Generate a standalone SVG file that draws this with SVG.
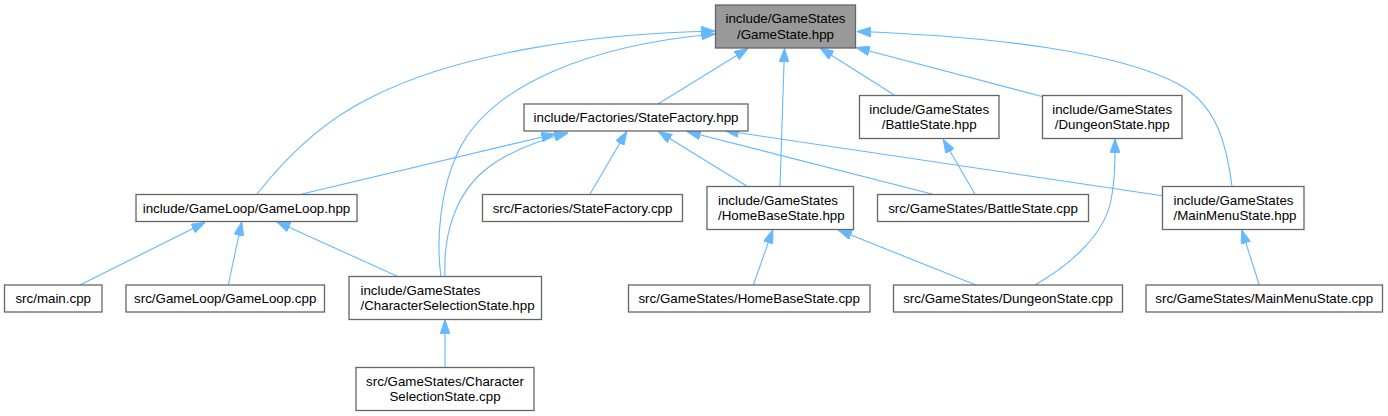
<svg xmlns="http://www.w3.org/2000/svg" width="1388" height="416" viewBox="0 0 1388 416">
<style>
  .bg { fill: #ffffff; }
  .node rect { fill: #ffffff; stroke: #666666; stroke-width: 1.3; }
  .node.root rect { fill: #999999; }
  .node text { font-family: "Liberation Sans", Arial, Helvetica, sans-serif; font-size: 13.33px; fill: #000000; }
  .c { text-anchor: middle; }
  .l { text-anchor: start; }
  .edges path { fill: none; stroke: #63b8ff; stroke-width: 1.1; marker-end: url(#arr); }
</style>
<defs>
  <marker id="arr" markerUnits="userSpaceOnUse" markerWidth="14" markerHeight="10" viewBox="0 0 13.3 9.4" refX="13" refY="4.7" orient="auto">
    <polygon points="0,0 13.3,4.7 0,9.4" fill="#63b8ff" stroke="#63b8ff" stroke-width="0.8"/>
  </marker>
</defs>
<rect class="bg" x="0" y="0" width="1388" height="416"/>

<g id="connectors" class="edges">
  <path d="M257,194 C290,152 328,118 372,97 C460,52 600,33 715,31"/>
  <path d="M441,277 C436,240 440,190 458,152 C490,85 590,45 715,34"/>
  <path d="M658,104 L748,48.5"/>
  <path d="M780,186.5 L784.5,48.5"/>
  <path d="M895,95.5 L820,48"/>
  <path d="M1042,96.5 L856,47.5"/>
  <path d="M1232,186.5 C1226,140 1215,105 1180,85 C1120,52 990,36 857,31.5"/>
  <path d="M302,194 L555,134"/>
  <path d="M445,277 C443,235 455,195 485,170 C510,150 540,140 568,133"/>
  <path d="M590,194 L626.7,131.5"/>
  <path d="M746.7,186 L658.3,131.5"/>
  <path d="M933,194.3 L687,131.5"/>
  <path d="M1162.3,195.7 L725,130.7"/>
  <path d="M975,194.3 L943.3,139.5"/>
  <path d="M1035,285 C1075,262 1105,232 1111,200 C1115,180 1115,160 1115,139"/>
  <path d="M80,285 L205,222.5"/>
  <path d="M228.3,285 L241.7,222"/>
  <path d="M398.3,276.7 L276.7,221.7"/>
  <path d="M753.3,285 L772.7,230"/>
  <path d="M976,285 L838.3,230"/>
  <path d="M1259.3,285 L1241.7,230"/>
  <path d="M445,367.5 L445,320"/>
</g>

<g id="n_gamestate_hpp" class="node root">
  <rect x="715.5" y="5" width="140" height="43"/>
  <text class="c" x="785.5" y="23">include/GameStates</text>
  <text class="c" x="785.5" y="38.5">/GameState.hpp</text>
</g>
<g id="n_statefactory_hpp" class="node">
  <rect x="524" y="104" width="224" height="27"/>
  <text class="c" x="636" y="122">include/Factories/StateFactory.hpp</text>
</g>
<g id="n_battlestate_hpp" class="node">
  <rect x="859.5" y="95.5" width="139.5" height="43"/>
  <text class="c" x="929.2" y="113.5">include/GameStates</text>
  <text class="c" x="929.2" y="129">/BattleState.hpp</text>
</g>
<g id="n_dungeonstate_hpp" class="node">
  <rect x="1042.5" y="95.5" width="139.5" height="43"/>
  <text class="c" x="1112.2" y="113.5">include/GameStates</text>
  <text class="c" x="1112.2" y="129">/DungeonState.hpp</text>
</g>
<g id="n_gameloop_hpp" class="node">
  <rect x="136" y="194.5" width="221" height="27"/>
  <text class="c" x="246.5" y="212.5">include/GameLoop/GameLoop.hpp</text>
</g>
<g id="n_statefactory_cpp" class="node">
  <rect x="482.5" y="194.5" width="200" height="27"/>
  <text class="c" x="582.5" y="212.5">src/Factories/StateFactory.cpp</text>
</g>
<g id="n_homebasestate_hpp" class="node">
  <rect x="707" y="186.5" width="146.5" height="43"/>
  <text class="l" x="718" y="204.5">include/GameStates</text>
  <text class="l" x="718" y="220">/HomeBaseState.hpp</text>
</g>
<g id="n_battlestate_cpp" class="node">
  <rect x="877.5" y="194.5" width="211" height="27"/>
  <text class="c" x="983" y="212.5">src/GameStates/BattleState.cpp</text>
</g>
<g id="n_mainmenustate_hpp" class="node">
  <rect x="1162.5" y="186.5" width="141.5" height="43"/>
  <text class="l" x="1173.5" y="204.5">include/GameStates</text>
  <text class="l" x="1173.5" y="220">/MainMenuState.hpp</text>
</g>
<g id="n_main_cpp" class="node">
  <rect x="4.5" y="285" width="97.5" height="27"/>
  <text class="c" x="53.2" y="303">src/main.cpp</text>
</g>
<g id="n_gameloop_cpp" class="node">
  <rect x="126" y="285" width="198.5" height="27"/>
  <text class="c" x="225.2" y="303">src/GameLoop/GameLoop.cpp</text>
</g>
<g id="n_charselstate_hpp" class="node">
  <rect x="349" y="276.5" width="192.5" height="43"/>
  <text class="l" x="360.5" y="294.5">include/GameStates</text>
  <text class="l" x="360.5" y="310">/CharacterSelectionState.hpp</text>
</g>
<g id="n_homebasestate_cpp" class="node">
  <rect x="628.5" y="285" width="241.5" height="27"/>
  <text class="c" x="749.2" y="303">src/GameStates/HomeBaseState.cpp</text>
</g>
<g id="n_dungeonstate_cpp" class="node">
  <rect x="893.5" y="285" width="229" height="27"/>
  <text class="c" x="1008" y="303">src/GameStates/DungeonState.cpp</text>
</g>
<g id="n_mainmenustate_cpp" class="node">
  <rect x="1146" y="285" width="236.5" height="27"/>
  <text class="c" x="1264.2" y="303">src/GameStates/MainMenuState.cpp</text>
</g>
<g id="n_charselstate_cpp" class="node">
  <rect x="356" y="367.5" width="178" height="43"/>
  <text class="c" x="445" y="385.5">src/GameStates/Character</text>
  <text class="c" x="445" y="401">SelectionState.cpp</text>
</g>
</svg>
